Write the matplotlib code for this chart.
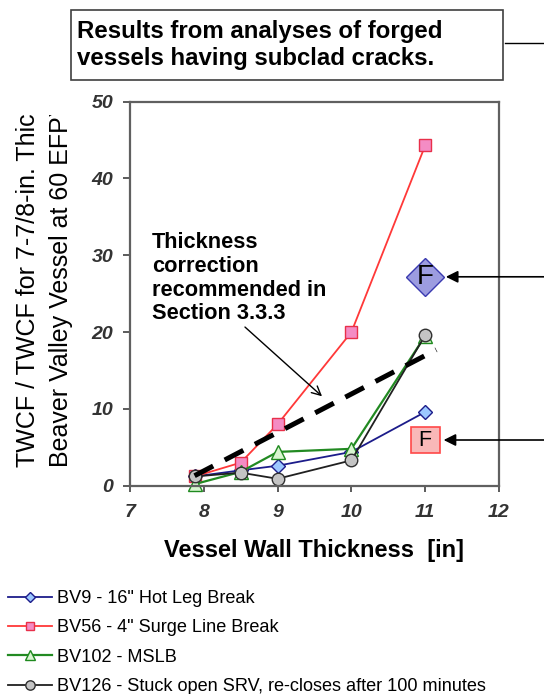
import matplotlib
matplotlib.use("Agg")
import matplotlib.pyplot as plt
from matplotlib.patches import Rectangle
from matplotlib.lines import Line2D
from matplotlib.transforms import Bbox, TransformedBbox

plt.rcParams['font.family'] = ['Liberation Sans', 'DejaVu Sans']

# Wall thickness [in] and TWCF ratios for each transient
thickness = [7.875, 8.5, 9.0, 10.0, 11.0]
bv9 = [1.2, 2.0, 2.6, 4.4, 9.6]
bv56 = [1.2, 3.0, 8.0, 20.0, 44.3]
bv102 = [0.2, 1.8, 4.4, 4.8, 19.5]
bv126 = [1.2, 1.7, 0.9, 3.3, 19.6]
series_labels = [
    'BV9 - 16" Hot Leg Break',
    'BV56 - 4" Surge Line Break',
    'BV102 - MSLB',
    'BV126 - Stuck open SRV, re-closes after 100 minutes',
]

# Recommended thickness correction
corr_x = [7.875, 11.15]
corr_y = [1.3, 17.7]

# Forged-vessel (subclad crack) results at 11 in
forged_x = 11.0
forged_bv9 = 27.2
forged_bv56 = 5.95

xticks = [7, 8, 9, 10, 11, 12]
yticks = [0, 10, 20, 30, 40, 50]

W, H = 544, 694
fig = plt.figure(figsize=(W / 100, H / 100), dpi=100)
ax = fig.add_axes([130 / W, 208.3 / H, 369 / W, 384 / H])

styles = [
    dict(color='#1c1c8a', marker='D', ms=7, mfc='#9cc8ff', mec='#1c1c8a', lw=1.3),
    dict(color='#ff3838', marker='s', ms=8.5, mfc='#f48cc4', mec='#e8304a', lw=1.3),
    dict(color='#228a22', marker='^', ms=9.5, mfc='#d8f5d0', mec='#1f8a1f', lw=1.6),
    dict(color='#202020', marker='o', ms=9, mfc='#c4c4c4', mec='#303030', lw=1.3),
]
handles = []
for ys, st, lab in zip([bv9, bv56, bv102, bv126], styles, series_labels):
    h, = ax.plot(thickness, ys, label=lab, clip_on=False, **st)
    handles.append(h)

ax.plot(corr_x, corr_y, color='black', lw=3.6, linestyle=(0, (4.2, 2.6)),
        solid_capstyle='butt', zorder=5)

ax.annotate('', xy=(9.63, 11.4), xytext=(8.53, 20.9),
            arrowprops=dict(arrowstyle='->', color='black', lw=1.0,
                            mutation_scale=16))
ax.text(7.30, 33.0, 'Thickness\ncorrection\nrecommended in\nSection 3.3.3',
        ha='left', va='top', fontsize=15.7, fontweight='bold', linespacing=1.17)

# Forged results
ax.plot([forged_x], [forged_bv9], marker='D', ms=19.5, mfc='#9c9ce0',
        mec='#3a3ab0', mew=1.0, clip_on=False, zorder=6)
ax.text(forged_x, forged_bv9, 'F', ha='center', va='center', fontsize=20,
        zorder=7)
ax.add_patch(Rectangle((forged_x - 0.195, forged_bv56 - 1.65), 0.39, 3.3,
                       fc='#f9b8b8', ec='#ff4848', lw=1.2, zorder=6))
ax.text(forged_x, forged_bv56, 'F', ha='center', va='center', fontsize=15.5,
        zorder=7)
for ytip, xtip in [(forged_bv9, 11.28), (forged_bv56, 11.25)]:
    ax.annotate('', xy=(xtip, ytip), xytext=(1.005, ytip),
                textcoords=('figure fraction', 'data'),
                arrowprops=dict(arrowstyle='-|>', color='black', lw=1.2,
                                mutation_scale=18, shrinkA=0, shrinkB=0),
                annotation_clip=False)

ax.set_xlim(7, 12)
ax.set_ylim(0, 50)
ax.set_xticks(xticks)
ax.set_yticks(yticks)
for lab in ax.get_xticklabels() + ax.get_yticklabels():
    lab.set_fontstyle('italic')
    lab.set_fontweight('bold')
    lab.set_fontsize(14)
    lab.set_color('#333333')
for sp in ax.spines.values():
    sp.set_color('#606060')
    sp.set_linewidth(1.6)
ax.tick_params(axis='y', length=5, width=1.2, pad=7, color='#404040')
ax.tick_params(axis='x', length=4, width=1.2, pad=9, color='#404040')

ax.set_xlabel('Vessel Wall Thickness  [in]', fontsize=17, fontweight='bold',
              labelpad=13)

# Rotated y label, two lines, trimmed at the top
clip = TransformedBbox(Bbox([[0, 0], [1, 1 - 115 / H]]), fig.transFigure)
for xpx, txt in [(28, 'TWCF / TWCF for 7-7/8-in. Thickness'),
                 (61, 'Beaver Valley Vessel at 60 EFPY')]:
    t = fig.text(xpx / W, 1 - 467 / H, txt, rotation=90, rotation_mode='anchor',
                 ha='left', va='center', fontsize=18)
    t.set_clip_on(True)
    t.set_clip_box(clip)

# Title box
fig.add_artist(Rectangle((71 / W, 1 - 80 / H), 432 / W, 70 / H,
                         transform=fig.transFigure, fill=False,
                         ec='#404040', lw=1.2))
fig.text(77 / W, 1 - 20 / H,
         'Results from analyses of forged\nvessels having subclad cracks.',
         ha='left', va='top', fontsize=17.3, fontweight='bold', linespacing=1.25)
fig.add_artist(Line2D([505 / W, 1], [1 - 43 / H] * 2,
                      transform=fig.transFigure, color='black', lw=1.0))

fig.legend(handles=handles, loc='upper left',
           bbox_to_anchor=(8 / W, 1 - 590 / H), frameon=False, fontsize=13.1,
           handlelength=2.4, handletextpad=0.3, labelspacing=0.68,
           borderpad=0, borderaxespad=0, markerscale=0.75)

fig.savefig('out.png', dpi=100)
